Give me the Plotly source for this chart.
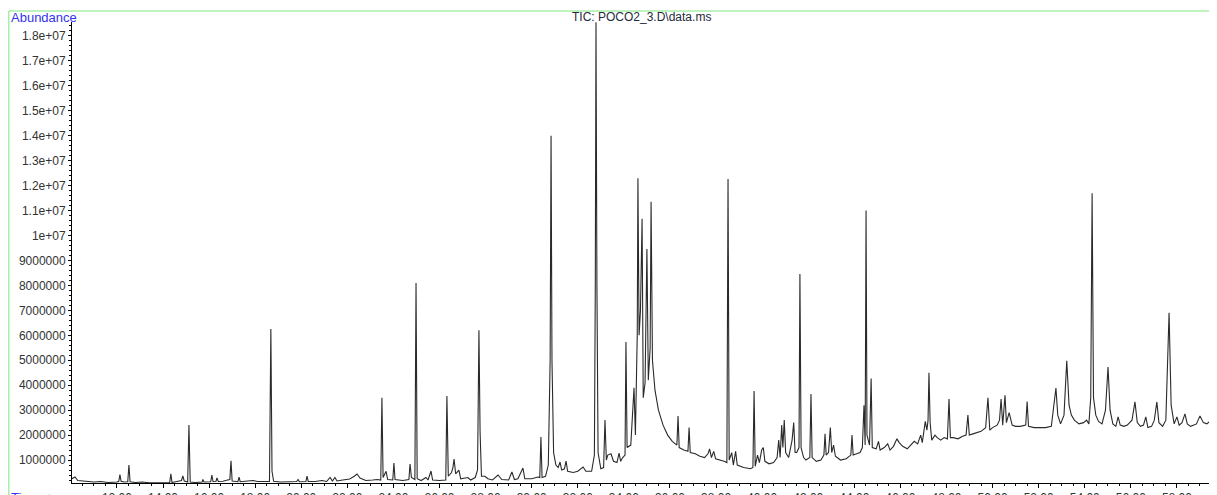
import plotly.graph_objects as go

# Retention time (min) and abundance (millions of counts)
time_min = [
    10.05, 10.12, 10.18, 10.30, 10.6, 11.0, 11.3, 11.6, 12.0, 12.08, 12.13, 12.18, 12.30, 12.47, 12.52, 12.57,
    12.8, 13.1, 13.4, 13.7, 14.0, 14.29, 14.34, 14.39, 14.6, 14.80, 14.86, 14.92, 15.07, 15.125, 15.18, 15.4,
    15.70, 15.73, 15.78, 15.95, 16.07, 16.12, 16.17, 16.30, 16.34, 16.40, 16.6, 16.80, 16.90, 16.95, 17.00,
    17.25, 17.30, 17.35, 17.6, 17.9, 18.1, 18.3, 18.62, 18.68, 18.73, 18.80, 19.1, 19.5, 19.80, 19.86, 19.92,
    20.20, 20.25, 20.30, 20.6, 20.9, 21.1, 21.25, 21.35, 21.46, 21.55, 21.8, 22.1, 22.3, 22.42, 22.55, 22.8,
    23.1, 23.3, 23.45, 23.50, 23.55, 23.68, 23.75, 23.97, 24.02, 24.07, 24.4, 24.67, 24.72, 24.78, 24.93,
    24.98, 25.03, 25.2, 25.41, 25.50, 25.63, 25.70, 26.0, 26.27, 26.32, 26.38, 26.52, 26.58, 26.63, 26.70,
    26.84, 26.92, 27.23, 27.35, 27.55, 27.65, 27.71, 27.76, 27.82, 27.97, 28.1, 28.3, 28.54, 28.7, 29.0,
    29.14, 29.25, 29.4, 29.62, 29.70, 30.0, 30.27, 30.35, 30.40, 30.45, 30.60, 30.72, 30.80, 30.84, 30.88,
    30.95, 31.05, 31.15, 31.23, 31.30, 31.42, 31.49, 31.56, 31.8, 32.0, 32.23, 32.35, 32.6, 32.72, 32.76,
    32.79, 32.83, 32.88, 33.0, 33.12, 33.18, 33.24, 33.30, 33.44, 33.55, 33.7, 33.79, 33.86, 33.95, 34.05,
    34.09, 34.14, 34.30, 34.40, 34.44, 34.50, 34.58, 34.61, 34.66, 34.72, 34.79, 34.84, 34.92, 35.00, 35.06,
    35.14, 35.18, 35.24, 35.35, 35.5, 35.7, 35.9, 36.1, 36.30, 36.35, 36.40, 36.6, 36.78, 36.83, 36.88,
    37.1, 37.3, 37.5, 37.65, 37.72, 37.80, 37.90, 37.98, 38.2, 38.35, 38.47, 38.52, 38.57, 38.68, 38.75,
    38.85, 38.92, 39.2, 39.5, 39.60, 39.65, 39.70, 39.80, 39.88, 39.98, 40.05, 40.12, 40.3, 40.5, 40.65,
    40.72, 40.78, 40.85, 40.90, 40.96, 41.02, 41.15, 41.30, 41.37, 41.43, 41.5, 41.60, 41.64, 41.69, 41.8,
    41.9, 42.07, 42.12, 42.17, 42.35, 42.55, 42.68, 42.73, 42.78, 42.88, 42.96, 43.02, 43.10, 43.18, 43.4,
    43.65, 43.85, 43.90, 43.95, 44.1, 44.25, 44.35, 44.42, 44.47, 44.51, 44.55, 44.66, 44.73, 44.78, 44.95,
    45.05, 45.12, 45.3, 45.45, 45.55, 45.7, 45.85, 45.95, 46.1, 46.3, 46.45, 46.6, 46.75, 46.88, 46.95,
    47.08, 47.15, 47.20, 47.24, 47.29, 47.36, 47.5, 47.6, 47.75, 47.9, 48.04, 48.11, 48.17, 48.3, 48.5,
    48.7, 48.85, 48.93, 48.99, 49.15, 49.35, 49.5, 49.70, 49.80, 49.88, 50.0, 50.2, 50.30, 50.37, 50.44,
    50.54, 50.60, 50.72, 50.85, 51.0, 51.2, 51.44, 51.50, 51.56, 51.8, 52.0, 52.3, 52.55, 52.66, 52.75,
    52.83, 52.95, 53.10, 53.22, 53.32, 53.42, 53.55, 53.75, 53.95, 54.08, 54.18, 54.26, 54.32, 54.38, 54.48,
    54.6, 54.75, 54.90, 55.01, 55.10, 55.22, 55.35, 55.45, 55.54, 55.7, 55.85, 56.05, 56.18, 56.28, 56.42,
    56.55, 56.65, 56.74, 56.9, 57.02, 57.13, 57.22, 57.38, 57.52, 57.66, 57.75, 57.88, 58.00, 58.10, 58.22,
    58.35, 58.45, 58.6, 58.85, 59.0, 59.15, 59.3, 59.48, 59.56, 59.66, 59.74,
]

abundance_m = [
    0.25, 0.30, 0.32, 0.18, 0.15, 0.12, 0.14, 0.10, 0.12, 0.15, 0.42, 0.15, 0.12, 0.13, 0.80, 0.13,
    0.10, 0.12, 0.09, 0.10, 0.08, 0.10, 0.45, 0.10, 0.14, 0.18, 0.36, 0.16, 0.12, 2.40, 0.12, 0.10,
    0.12, 0.22, 0.12, 0.14, 0.13, 0.40, 0.14, 0.15, 0.28, 0.14, 0.15, 0.20, 0.22, 0.97, 0.16,
    0.13, 0.32, 0.13, 0.14, 0.18, 0.14, 0.15, 0.14, 6.25, 0.55, 0.15, 0.12, 0.13, 0.14, 0.22, 0.13,
    0.14, 0.36, 0.14, 0.14, 0.18, 0.14, 0.30, 0.16, 0.30, 0.16, 0.20, 0.24, 0.35, 0.44, 0.28, 0.18,
    0.20, 0.22, 0.20, 3.50, 0.30, 0.55, 0.22, 0.20, 0.88, 0.22, 0.18, 0.22, 0.84, 0.30, 0.22,
    8.10, 0.25, 0.18, 0.30, 0.20, 0.56, 0.20, 0.18, 0.20, 3.57, 0.35, 0.50, 0.70, 1.04, 0.45,
    0.60, 0.25, 0.30, 0.20, 0.30, 0.60, 6.20, 2.10, 0.35, 0.35, 0.25, 0.20, 0.40, 0.22, 0.20,
    0.52, 0.22, 0.25, 0.68, 0.25, 0.25, 0.32, 0.30, 1.92, 0.30, 0.35, 0.80, 5.00, 14.0, 5.00,
    1.30, 0.80, 0.70, 0.92, 0.60, 0.65, 0.96, 0.55, 0.50, 0.55, 0.72, 0.55, 0.55, 1.20, 8.00,
    18.55, 8.00, 1.30, 0.65, 0.70, 2.60, 1.00, 1.20, 1.25, 0.95, 0.90, 1.28, 0.95, 1.10, 1.20,
    5.73, 1.50, 1.60, 3.00, 3.90, 2.00, 6.00, 12.3, 6.00, 7.00, 10.67, 3.50, 4.10, 9.46, 4.20,
    5.50, 11.35, 5.00, 3.80, 3.00, 2.40, 2.00, 1.75, 1.60, 2.77, 1.50, 1.40, 1.35, 2.30, 1.30,
    1.25, 1.15, 1.10, 1.25, 1.45, 1.10, 1.35, 1.05, 1.00, 0.95, 0.90, 12.27, 1.00, 1.30, 0.80,
    1.35, 0.80, 0.70, 0.65, 0.70, 3.77, 0.75, 1.20, 0.90, 1.40, 1.50, 0.95, 0.85, 0.90, 1.10,
    1.80, 1.10, 2.40, 1.50, 2.60, 1.30, 1.10, 1.80, 2.50, 1.30, 1.30, 1.50, 8.46, 1.50, 1.10,
    1.00, 1.10, 3.65, 1.10, 0.95, 1.00, 1.20, 2.05, 1.20, 1.30, 2.30, 1.30, 1.60, 1.15, 1.00,
    1.05, 1.20, 2.00, 1.20, 1.25, 1.30, 1.50, 3.20, 1.60, 11.0, 2.00, 1.60, 4.27, 1.50, 1.45,
    1.75, 1.40, 1.50, 1.65, 1.40, 1.55, 1.85, 1.70, 1.55, 1.45, 1.60, 1.75, 1.65, 2.00, 1.70,
    2.55, 2.20, 2.60, 4.50, 2.50, 1.80, 2.00, 1.90, 1.80, 1.90, 1.85, 3.45, 1.90, 1.90, 1.85,
    1.95, 2.00, 2.80, 2.00, 2.05, 2.10, 2.15, 2.30, 3.50, 2.20, 2.30, 2.40, 2.60, 3.45, 2.40,
    3.60, 2.50, 2.90, 2.40, 2.35, 2.35, 2.40, 3.35, 2.35, 2.30, 2.30, 2.30, 2.35, 3.10, 3.89,
    2.80, 2.45, 2.80, 4.98, 3.20, 2.80, 2.60, 2.45, 2.50, 2.60, 2.45, 3.50, 11.7, 3.50, 2.80,
    2.55, 2.45, 3.00, 4.73, 3.00, 2.45, 2.35, 2.73, 2.40, 2.35, 2.40, 2.60, 3.33, 2.50, 2.35,
    2.40, 2.73, 2.30, 2.35, 2.60, 3.33, 2.50, 2.35, 2.60, 6.90, 3.20, 2.45, 2.73, 2.40, 2.50,
    2.85, 2.45, 2.35, 2.45, 2.77, 2.50, 2.45, 2.60, 2.85, 2.60, 2.50,
]

x_tick_vals = [12, 14, 16, 18, 20, 22, 24, 26, 28, 30, 32, 34, 36, 38, 40, 42, 44, 46, 48, 50, 52, 54, 56, 58]
x_tick_text = ["12.00", "14.00", "16.00", "18.00", "20.00", "22.00", "24.00", "26.00", "28.00", "30.00",
               "32.00", "34.00", "36.00", "38.00", "40.00", "42.00", "44.00", "46.00", "48.00", "50.00",
               "52.00", "54.00", "56.00", "58.00"]
y_tick_vals = [1e6, 2e6, 3e6, 4e6, 5e6, 6e6, 7e6, 8e6, 9e6, 1e7, 1.1e7, 1.2e7, 1.3e7, 1.4e7, 1.5e7,
               1.6e7, 1.7e7, 1.8e7]
y_tick_text = ["1000000", "2000000", "3000000", "4000000", "5000000", "6000000", "7000000", "8000000",
               "9000000", "1e+07", "1.1e+07", "1.2e+07", "1.3e+07", "1.4e+07", "1.5e+07", "1.6e+07",
               "1.7e+07", "1.8e+07"]

abundance = [v * 1e6 for v in abundance_m]

fig = go.Figure()
fig.add_trace(go.Scatter(x=time_min, y=abundance, mode="lines",
                         line=dict(color="#2a2a2a", width=1.1), showlegend=False))

FONT = "Liberation Sans, Arial, sans-serif"

# the page body has an 8 px margin, so the figure is sized to end at the window edge
fig.update_layout(
    width=1209, height=487,
    margin=dict(l=64, r=0, t=14, b=12, autoexpand=False),
    paper_bgcolor="white", plot_bgcolor="white",
    font=dict(family=FONT, size=12, color="#333333"),
    xaxis=dict(range=[10.05, 59.74], tickmode="array", tickvals=x_tick_vals, ticktext=x_tick_text,
               showgrid=False, zeroline=False, showline=True, linecolor="#000", linewidth=1,
               ticks="outside", ticklen=4, tickcolor="#000", automargin=False,
               minor=dict(tickmode="linear", tick0=0, dtick=0.5, ticklen=2, tickcolor="#000", showgrid=False),
               tickfont=dict(size=12, color="#333333")),
    yaxis=dict(range=[0.08e6, 18.56e6], tickmode="array", tickvals=y_tick_vals, ticktext=y_tick_text,
               showgrid=False, zeroline=False, showline=True, linecolor="#000", linewidth=1,
               ticks="outside", ticklen=3, tickcolor="#000", automargin=False,
               minor=dict(tickmode="linear", tick0=0, dtick=200000, ticklen=2, tickcolor="#000", showgrid=False),
               tickfont=dict(size=12, color="#333333")),
    annotations=[
        dict(text="TIC: POCO2_3.D\\data.ms", xref="paper", yref="paper", x=0.497, y=1.0108,
             xanchor="center", yanchor="middle", showarrow=False,
             font=dict(family=FONT, size=12, color="#1f2a3a")),
        dict(text="Abundance", xref="paper", yref="paper", x=-0.0553, y=1.0108,
             xanchor="left", yanchor="middle", showarrow=False,
             font=dict(family=FONT, size=13, color="#3333ee")),
        dict(text="Time-->", xref="paper", yref="paper", x=-0.0553, y=-0.01,
             xanchor="left", yanchor="top", showarrow=False,
             font=dict(family=FONT, size=13, color="#3333ee")),
    ],
    shapes=[
        dict(type="line", xref="paper", yref="paper", x0=-0.0552, x1=1.0, y0=1.0239, y1=1.0239,
             line=dict(color="#a8eea8", width=1.5)),
        dict(type="line", xref="paper", yref="paper", x0=-0.0552, x1=-0.0552, y0=-0.03, y1=1.0239,
             line=dict(color="#a8eea8", width=1.5)),
    ],
)

fig.write_html("out.html")
